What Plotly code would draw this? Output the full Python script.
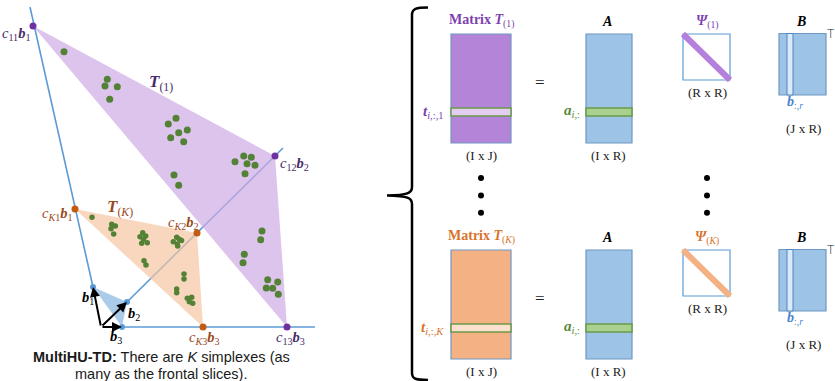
import plotly.graph_objects as go

W, H = 835, 381

# ---- left panel: simplex geometry (pixel coordinates, y grows downward) ----
origin = (101, 327)
base_pts = [(93, 287), (127, 302), (122, 327)]          # b1, b2, b3
simplex_1 = [(33, 26), (275, 156), (287, 327)]          # c11 b1, c12 b2, c13 b3
simplex_K = [(75, 209), (197, 233), (203, 327)]         # cK1 b1, cK2 b2, cK3 b3
axis_b1 = [(30, 7), (93, 287)]
axis_b2 = [(127, 302), (283, 148)]
axis_b3 = [(122, 327), (315, 327)]

pixels_1_x = [64, 107.3, 105, 117.3, 109.7, 168.3, 176, 187.3, 178.7, 170.7, 183.7,
              235, 243.7, 251.3, 247, 255, 245, 174, 178.7,
              262, 260.7, 244.3, 243, 267.7, 277.7, 266.3, 272.7, 278.3]
pixels_1_y = [51.7, 79.3, 86, 86.7, 99.3, 124, 118.3, 130, 132.7, 137.7, 141.7,
              161.7, 156, 157.3, 163.7, 165.3, 173.7, 175, 185.3,
              231, 239.7, 254.3, 262.7, 279.7, 282, 288, 288.3, 294.3]
pixels_K_x = [92, 111.7, 115.3, 111, 113.7, 142.7, 140, 145.7, 141.7, 147.3, 143.5,
              176.7, 179.3, 173.3, 177.3, 181.5, 177.7, 144, 146, 184, 184,
              176.7, 176.7, 187.3, 191.7, 189.3, 192.7]
pixels_K_y = [217.3, 224.3, 226, 228.7, 234, 232.7, 236.7, 236, 243.3, 242.7, 239.5,
              237.3, 239.3, 241.7, 244, 240.5, 246, 260.7, 265, 274, 279,
              289, 292.7, 298.3, 297.3, 301.7, 303.3]

# ---- right panel: matrix blocks ----
row_top = [34, 250]          # top edge of matrices per row
T_box_x = [451, 511]
A_box_x = [586, 632]
P_box_x = [683, 730]
B_box_x = [779, 826]
mat_height = 109
stripe_offset = [74, 82]     # row stripe inside T and A
P_size = 46
B_height = 61
B_col_x = [787, 793]
row_colors = ["#b484d8", "#f4b183"]
stripe_colors = ["#e3cdf0", "#fbe1cd"]
diag_colors = ["#b57fdc", "#f4b183"]
title_colors = ["#7e3fb0", "#d9742c"]
row_tags = ["1", "K"]

PURPLE_DARK = "#4a2a6a"
BROWN = "#9a4a1c"
BLUE = "#5b9bd5"
GREEN_DOT = "#538135"
SERIF = "Liberation Serif"

fig = go.Figure()

# coordinate axes of the simplex space
for seg in (axis_b1, axis_b2, axis_b3):
    fig.add_trace(go.Scatter(x=[p[0] for p in seg], y=[p[1] for p in seg], mode="lines",
                             line=dict(color=BLUE, width=1.6), hoverinfo="skip"))

# simplex fills
def tri(points, fill):
    xs = [p[0] for p in points] + [points[0][0]]
    ys = [p[1] for p in points] + [points[0][1]]
    fig.add_trace(go.Scatter(x=xs, y=ys, mode="lines", fill="toself", fillcolor=fill,
                             line=dict(width=0, color="rgba(0,0,0,0)"), hoverinfo="skip"))

tri(simplex_1, "rgba(205,171,228,0.7)")
tri(simplex_K, "rgba(246,196,160,0.68)")
tri(base_pts, "rgba(150,190,230,0.8)")

# pixels
fig.add_trace(go.Scatter(x=pixels_1_x, y=pixels_1_y, mode="markers",
                         marker=dict(color=GREEN_DOT, size=7), hoverinfo="skip"))
fig.add_trace(go.Scatter(x=pixels_K_x, y=pixels_K_y, mode="markers",
                         marker=dict(color=GREEN_DOT, size=5.5), hoverinfo="skip"))

# vertices
for pts, col, sz in ((simplex_1, "#7030a0", 7), (simplex_K, "#c55a11", 7), (base_pts, BLUE, 6)):
    fig.add_trace(go.Scatter(x=[p[0] for p in pts], y=[p[1] for p in pts], mode="markers",
                             marker=dict(color=col, size=sz), hoverinfo="skip"))

annotations = []

def label(x, y, text, color="black", size=13, xanchor="center", family=SERIF, yanchor="middle"):
    annotations.append(dict(x=x, y=y, xref="x", yref="y", text=text, showarrow=False,
                            xanchor=xanchor, yanchor=yanchor,
                            font=dict(family=family, size=size, color=color)))

# basis arrows
for p in base_pts:
    annotations.append(dict(x=p[0], y=p[1], ax=origin[0], ay=origin[1], xref="x", yref="y",
                            axref="x", ayref="y", text="", showarrow=True, arrowhead=2,
                            arrowsize=1, arrowwidth=2, arrowcolor="black", standoff=0))

cb = lambda c, b: "<i>c</i><sub>%s</sub><b><i>b</i></b><sub>%s</sub>" % (c, b)
label(33, 34, cb("11", "1"), PURPLE_DARK, size=14.5, xanchor="right")
label(278, 164, cb("12", "2"), PURPLE_DARK, size=14.5, xanchor="left")
label(290, 338, cb("13", "3"), PURPLE_DARK, size=14.5)
label(161, 83, "<b><i>T</i></b><sub>(1)</sub>", PURPLE_DARK, size=17)
label(75, 214, cb("<i>K</i>1", "1"), BROWN, size=14.5, xanchor="right")
label(183, 223, cb("<i>K</i>2", "2"), BROWN, size=14.5)
label(204, 338, cb("<i>K</i>3", "3"), BROWN, size=14.5)
label(120, 208, "<b><i>T</i></b><sub>(<i>K</i>)</sub>", BROWN, size=17)
label(88, 298, "<b><i>b</i></b><sub>1</sub>", "black", size=14.5)
label(134, 314, "<b><i>b</i></b><sub>2</sub>", "black", size=14.5)
label(116, 337, "<b><i>b</i></b><sub>3</sub>", "black", size=14.5)

label(161, 357, "<b>MultiHU-TD:</b> There are <i>K</i> simplexes (as", "#1a1a1a", size=14.5,
      family="Liberation Sans")
label(161, 373.5, "many as the frontal slices).", "#1a1a1a", size=14.5, family="Liberation Sans")

shapes = []

# brace grouping the K frontal slices
shapes.append(dict(type="path", xref="x", yref="y",
                   path="M 428,7.5 C 416,7.5 412,8.5 412,15 L 412,187 C 412,193 408,195 387,195.5 "
                        "C 408,196 412,198 412,204 L 412,373 C 412,379 416,380 428,380",
                   line=dict(color="black", width=2.5)))

EDGE = "#6f97c2"
for r in range(2):
    top = row_top[r]
    bot = top + mat_height
    # T(k) slice
    shapes.append(dict(type="rect", x0=T_box_x[0], x1=T_box_x[1], y0=top, y1=bot,
                       fillcolor=row_colors[r], line=dict(color=EDGE, width=1.2)))
    shapes.append(dict(type="rect", x0=T_box_x[0], x1=T_box_x[1], y0=top + stripe_offset[0],
                       y1=top + stripe_offset[1], fillcolor=stripe_colors[r],
                       line=dict(color="#6a9a4a", width=1.5)))
    # A
    shapes.append(dict(type="rect", x0=A_box_x[0], x1=A_box_x[1], y0=top, y1=bot,
                       fillcolor="#9dc3e6", line=dict(color=EDGE, width=1.2)))
    shapes.append(dict(type="rect", x0=A_box_x[0], x1=A_box_x[1], y0=top + stripe_offset[0],
                       y1=top + stripe_offset[1], fillcolor="#a9d18e",
                       line=dict(color="#6a9a4a", width=1.5)))
    # Psi(k)
    shapes.append(dict(type="rect", x0=P_box_x[0], x1=P_box_x[1], y0=top, y1=top + P_size,
                       fillcolor="white", line=dict(color=BLUE, width=1.2)))
    shapes.append(dict(type="line", x0=P_box_x[0], x1=P_box_x[1], y0=top, y1=top + P_size,
                       line=dict(color=diag_colors[r], width=6)))
    # B
    shapes.append(dict(type="rect", x0=B_box_x[0], x1=B_box_x[1], y0=top - 0.5, y1=top + B_height,
                       fillcolor="#9dc3e6", line=dict(color=EDGE, width=1.2)))
    shapes.append(dict(type="rect", x0=B_col_x[0], x1=B_col_x[1], y0=top - 0.5, y1=top + B_height,
                       fillcolor="#dce9f6", line=dict(color="#4f86c0", width=1)))

    tag = "<i>" + row_tags[r] + "</i>" if row_tags[r] == "K" else row_tags[r]
    label(481, top - 13, "<b>Matrix <i>T</i></b><sub>(%s)</sub>" % tag, title_colors[r], size=14)
    label(607, top - 13, "<b><i>A</i></b>", "black", size=14)
    label(707, top - 12, "<b><i>Ψ</i></b><sub>(%s)</sub>" % tag, title_colors[r], size=14)
    label(801, top - 13, "<b><i>B</i></b>", "black", size=14)
    label(831, top, "T", "#222", size=12, family="DejaVu Sans Light")
    label(446, top + 78, "<b><i>t</i></b><sub><i>i</i>,:,%s</sub>" % tag, title_colors[r],
          size=15, xanchor="right")
    label(582, top + 77, "<b><i>a</i></b><sub><i>i</i>,:</sub>", "#5a8a3c", size=15, xanchor="right")
    label(795, top + 68, "<b><i>b</i></b><sub>:,<i>r</i></sub>", "#4a86c8", size=14)
    label(481, top + 121, "(I x J)", "#222", size=13)
    label(608, top + 121, "(I x R)", "#222", size=13)
    label(707, top + 58, "(R x R)", "#222", size=13)
    label(803, top + 94, "(J x R)", "#222", size=13)
    label(540, top + 48, "=", "#222", size=17)

# vertical ellipsis between the first and last slice
dots_y = [178, 195.5, 212.7]
fig.add_trace(go.Scatter(x=[481] * 3 + [707] * 3, y=dots_y * 2, mode="markers",
                         marker=dict(color="black", size=6), hoverinfo="skip"))

fig.update_layout(
    width=W, height=H, margin=dict(l=0, r=0, t=0, b=0),
    paper_bgcolor="white", plot_bgcolor="white", showlegend=False,
    xaxis=dict(range=[0, W], visible=False, fixedrange=True),
    yaxis=dict(range=[H, 0], visible=False, fixedrange=True),
    shapes=shapes, annotations=annotations,
)
fig.write_html("out.html")
